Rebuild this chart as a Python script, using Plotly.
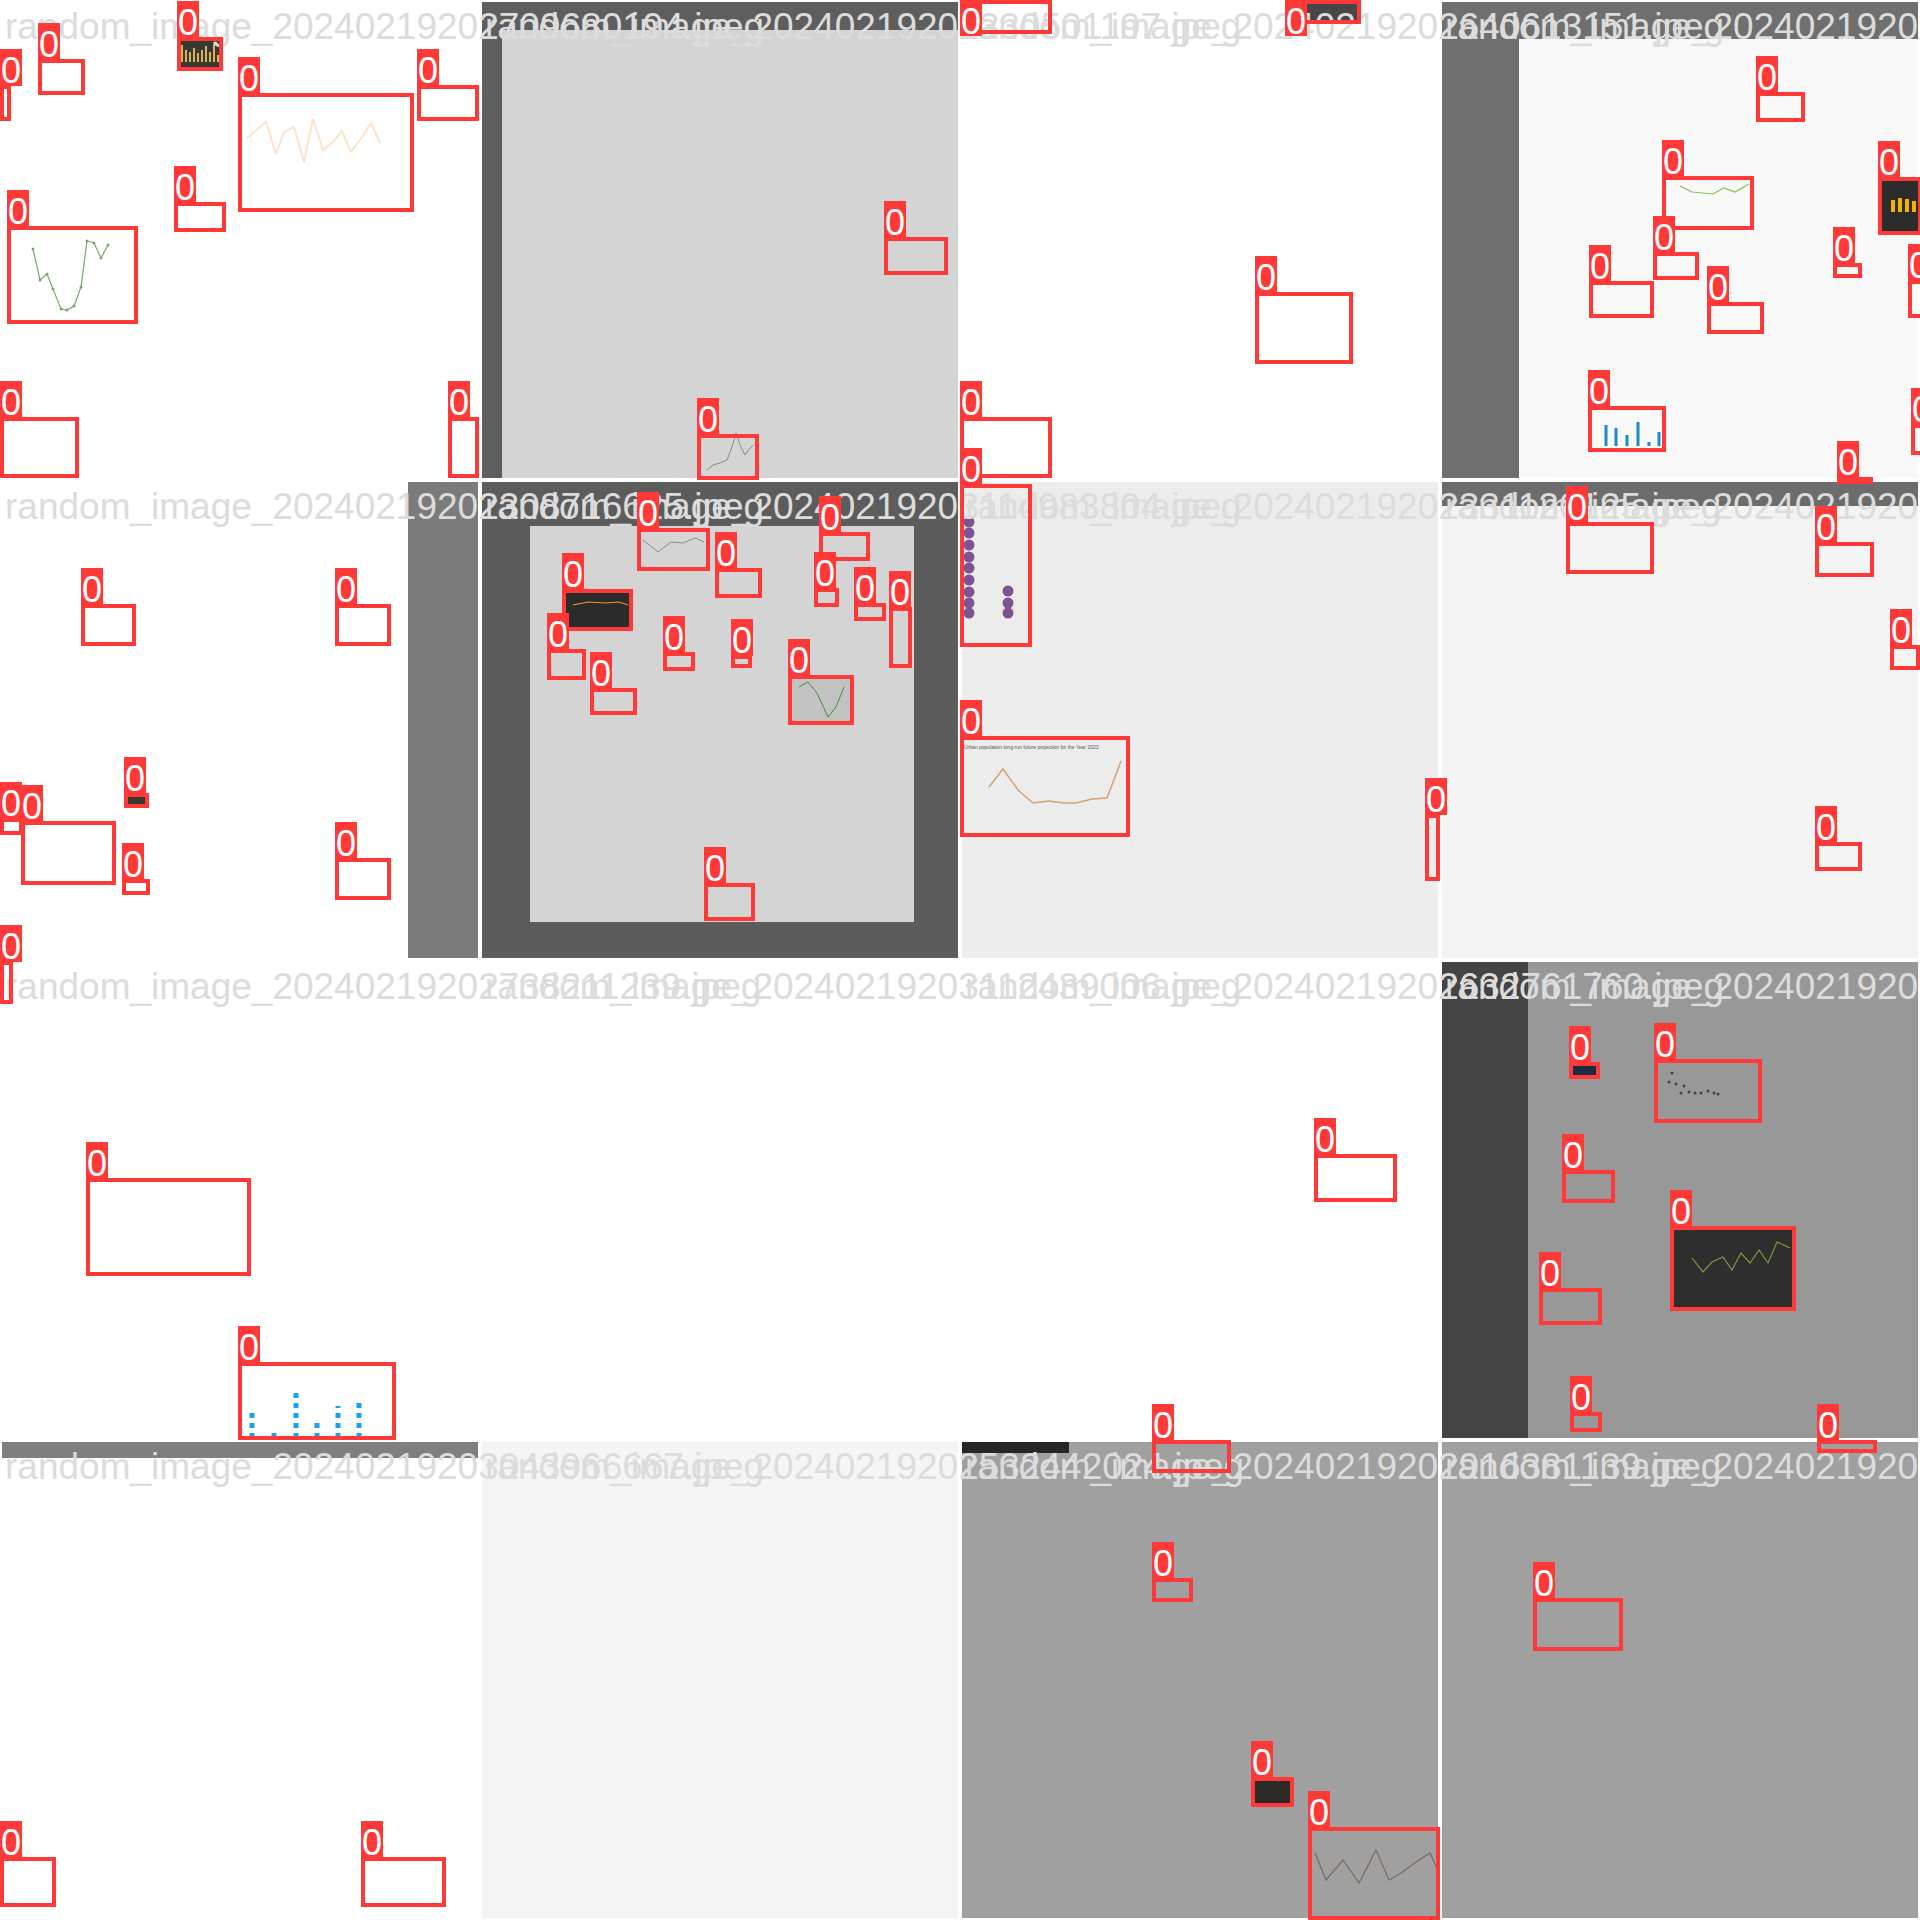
import plotly.graph_objects as go

SIZE = 1920
TILE = 480

# ---------------- data ----------------
file_names = [
    "random_image_20240219202709680194.jpeg",
    "random_image_20240219202330501197.jpeg",
    "random_image_20240219202640613151.jpeg",
    "random_image_20240219202818406281.jpeg",
    "random_image_20240219202308716625.jpeg",
    "random_image_20240219203114983804.jpeg",
    "random_image_20240219202331120125.jpeg",
    "random_image_20240219202914553206.jpeg",
    "random_image_20240219202738211239.jpeg",
    "random_image_20240219203112439006.jpeg",
    "random_image_20240219202632761760.jpeg",
    "random_image_20240219202455018347.jpeg",
    "random_image_20240219203043966667.jpeg",
    "random_image_20240219202532442024.jpeg",
    "random_image_20240219202916381139.jpeg",
    "random_image_20240219202607733452.jpeg",
]

tile_colors = [
    "#ffffff", "#5e5e5e", "#ffffff", "#6f6f6f",
    "#ffffff", "#5c5c5c", "#ececec", "#f3f3f3",
    "#ffffff", "#ffffff", "#ffffff", "#989898",
    "#ffffff", "#f5f5f5", "#a0a0a0", "#a0a0a0",
]

# regions inside tiles (image content / letterbox padding)
region_x0 = [502, 1519, 408, 530, 1440, 1440, 0, 960]
region_y0 = [30, 39, 480, 526, 480, 960, 1440, 1440]
region_x1 = [960, 1920, 480, 914, 1920, 1528, 480, 1069]
region_y1 = [480, 480, 960, 922, 506, 1440, 1458, 1453]
region_color = ["#d4d4d4", "#f8f8f8", "#7b7b7b", "#d4d4d4",
                "#6c6c6c", "#444444", "#7f7f7f", "#262626"]

# detected boxes (class 0), pixel corners in the mosaic
box_x0 = [38, 0, 177, 238, 417, 174, 7, 0, 448,
          884, 697,
          960, 1285, 1255, 960,
          1756, 1662, 1878, 1653, 1589, 1707, 1833, 1908, 1588, 1837, 1911,
          81, 335, 124, 0, 21, 122, 335,
          637, 715, 819, 562, 814, 854, 889, 547, 590, 663, 731, 788, 704,
          960, 960, 1425,
          1566, 1815, 1890, 1815,
          0, 86, 238,
          1314,
          1569, 1654, 1562, 1670, 1539, 1570,
          1152, 1152, 1251, 1308,
          1533, 1817,
          0, 361]
box_y0 = [59, 85, 37, 93, 85, 202, 226, 417, 417,
          237, 434,
          0, 0, 292, 417,
          92, 176, 177, 252, 281, 302, 263, 280, 406, 477, 424,
          604, 604, 793, 818, 821, 879, 858,
          528, 568, 532, 589, 588, 603, 607, 649, 688, 652, 655, 675, 883,
          484, 736, 814,
          522, 542, 645, 842,
          961, 1178, 1362,
          1154,
          1062, 1059, 1170, 1226, 1288, 1412,
          1440, 1578, 1777, 1827,
          1598, 1440,
          1857, 1857]
box_x1 = [85, 11, 223, 414, 479, 226, 138, 79, 479,
          948, 759,
          1052, 1361, 1353, 1052,
          1805, 1754, 1922, 1699, 1654, 1764, 1862, 1925, 1666, 1873, 1930,
          136, 391, 149, 23, 116, 150, 391,
          710, 762, 870, 633, 839, 886, 912, 586, 637, 695, 752, 854, 755,
          1032, 1130, 1440,
          1654, 1874, 1920, 1862,
          13, 251, 396,
          1397,
          1600, 1762, 1615, 1796, 1602, 1602,
          1231, 1193, 1294, 1440,
          1623, 1877,
          56, 446]
box_y1 = [95, 121, 71, 212, 121, 232, 324, 478, 478,
          275, 480,
          34, 24, 364, 478,
          122, 230, 235, 280, 318, 334, 278, 318, 452, 484, 455,
          646, 646, 808, 835, 885, 895, 900,
          571, 598, 561, 631, 607, 621, 668, 680, 715, 671, 668, 725, 921,
          647, 837, 881,
          574, 577, 670, 871,
          1004, 1276, 1440,
          1202,
          1079, 1123, 1203, 1311, 1325, 1432,
          1473, 1602, 1807, 1920,
          1651, 1453,
          1907, 1907]
# thumbnail background inside some boxes (chart images)
box_fill = ["", "", "#3a3833", "", "", "", "", "", "",
            "", "",
            "", "#474747", "", "",
            "", "", "#2c2c2c", "", "", "", "", "", "", "", "",
            "", "", "#3a3833", "", "", "", "",
            "", "", "", "#2b2b2b", "", "", "", "", "", "", "", "#c2c2c2", "",
            "", "", "",
            "", "", "", "",
            "", "", "",
            "",
            "#1f2a45", "", "", "#2e2e2e", "", "",
            "", "", "#2b2a27", "",
            "", "",
            "", ""]
class_label = "0"

# ---- content of the chart thumbnails inside the boxes (mosaic pixels) ----
green_line_x = [33, 40, 47, 53, 61, 67, 74, 81, 87, 94, 101, 108]
green_line_y = [249, 280, 274, 289, 309, 310, 306, 287, 241, 243, 258, 245]
peach_line_x = [247, 266, 276, 284, 294, 304, 313, 323, 333, 342, 351, 362, 371, 380]
peach_line_y = [138, 122, 154, 132, 127, 162, 119, 150, 142, 131, 152, 137, 123, 143]
purple_dots_x = [969] * 9 + [1008] * 3
purple_dots_y = [522, 533, 545, 557, 568, 580, 592, 603, 613, 591, 603, 613]
urban_line_x = [989, 1003, 1018, 1033, 1049, 1064, 1076, 1092, 1107, 1121]
urban_line_y = [787, 769, 790, 803, 801, 803, 803, 799, 798, 761]
dark_green_x = [1692, 1703, 1712, 1723, 1732, 1741, 1750, 1759, 1768, 1777, 1790]
dark_green_y = [1258, 1272, 1262, 1257, 1270, 1253, 1263, 1250, 1263, 1242, 1248]
brown_line_x = [1315, 1326, 1343, 1359, 1376, 1389, 1401, 1416, 1430, 1439]
brown_line_y = [1853, 1880, 1860, 1883, 1850, 1880, 1873, 1862, 1853, 1873]
blue_col_x = [252, 274, 296, 317, 338, 359]
blue_col_top = [1412, 1431, 1393, 1418, 1406, 1400]
blue_col_base = 1438
blue_bar_x = [1606, 1616, 1627, 1638, 1649, 1659]
blue_bar_top = [425, 428, 435, 422, 442, 432]
blue_bar_base = 446
gold_bar_x = [182, 186, 190, 194, 198, 202, 206, 210, 214, 218]
gold_bar_top = [45, 50, 52, 48, 53, 50, 46, 52, 44, 55]
gold_bar_base = 62
amber_bar_x = [1893, 1900, 1907, 1914]
amber_bar_top = [200, 198, 199, 201]
amber_bar_base = 212
lime_line_x = [1680, 1692, 1703, 1713, 1724, 1735, 1749]
lime_line_y = [186, 192, 193, 194, 188, 192, 184]
scatter_pts_x = [1672, 1669, 1676, 1684, 1681, 1689, 1695, 1701, 1708, 1714, 1718]
scatter_pts_y = [1073, 1082, 1084, 1086, 1093, 1092, 1093, 1093, 1091, 1093, 1094]
grey_peak_x = [707, 713, 720, 727, 732, 736, 740, 745, 750, 753]
grey_peak_y = [470, 465, 463, 460, 447, 433, 445, 455, 448, 445]
valley_x = [799, 808, 817, 828, 836, 844]
valley_y = [687, 682, 693, 717, 707, 687]
wave_x = [643, 658, 671, 683, 695, 704]
wave_y = [540, 552, 542, 543, 538, 542]
gold_line_x = [573, 588, 606, 619, 628]
gold_line_y = [605, 602, 603, 602, 605]
urban_title = "Urban population long-run future projection for the Year 2023"

# ---------------- styling ----------------
BOX_COLOR = "#ff3838"
LINE_W = 4
LABEL_W = 22
LABEL_H = 36
FONT = "Liberation Sans, Arial, sans-serif"

shapes = []
for i, col in enumerate(tile_colors):
    tx = (i % 4) * TILE
    ty = (i // 4) * TILE
    shapes.append(dict(type="rect", xref="x", yref="y", x0=tx, y0=ty, x1=tx + TILE, y1=ty + TILE,
                       fillcolor=col, line=dict(width=0), layer="below"))
for x0, y0, x1, y1, col in zip(region_x0, region_y0, region_x1, region_y1, region_color):
    shapes.append(dict(type="rect", xref="x", yref="y", x0=x0, y0=y0, x1=x1, y1=y1,
                       fillcolor=col, line=dict(width=0), layer="below"))
for x0, y0, x1, y1, col in zip(box_x0, box_y0, box_x1, box_y1, box_fill):
    if col:
        shapes.append(dict(type="rect", xref="x", yref="y", x0=x0, y0=y0, x1=x1, y1=y1,
                           fillcolor=col, line=dict(width=0), layer="below"))
for i in range(16):
    tx = (i % 4) * TILE
    ty = (i // 4) * TILE
    shapes.append(dict(type="rect", xref="x", yref="y", x0=tx + 1, y0=ty + 1,
                       x1=tx + TILE - 1, y1=ty + TILE - 1,
                       line=dict(color="#ffffff", width=2), fillcolor="rgba(0,0,0,0)", layer="below"))

for x0, y0, x1, y1 in zip(box_x0, box_y0, box_x1, box_y1):
    shapes.append(dict(type="rect", xref="x", yref="y",
                       x0=x0 + LINE_W / 2, y0=y0 + LINE_W / 2, x1=x1 - LINE_W / 2, y1=y1 - LINE_W / 2,
                       line=dict(color=BOX_COLOR, width=LINE_W), fillcolor="rgba(0,0,0,0)", layer="above"))
for x0, y0 in zip(box_x0, box_y0):
    if y0 - LABEL_H >= 0:
        ly0, ly1 = y0 - LABEL_H, y0 + 1
    else:
        ly0, ly1 = y0, y0 + LABEL_H
    shapes.append(dict(type="rect", xref="x", yref="y", x0=x0, y0=ly0, x1=x0 + LABEL_W, y1=ly1,
                       fillcolor=BOX_COLOR, line=dict(width=0), layer="above",
                       label=dict(text=class_label, textposition="middle center",
                                  font=dict(family=FONT, size=36, color="#ffffff"), padding=0)))

fig = go.Figure()


def add_line(xs, ys, color, width=1.2, mode="lines", msize=3, dash="solid"):
    fig.add_trace(go.Scatter(x=xs, y=ys, mode=mode, line=dict(color=color, width=width, dash=dash),
                             marker=dict(color=color, size=msize), hoverinfo="skip", showlegend=False))


def add_bars(xs, tops, base, color, width, dash="solid"):
    px, py = [], []
    for x, t in zip(xs, tops):
        px += [x, x, None]
        py += [base, t, None]
    add_line(px, py, color, width, dash=dash)


# thumbnails
add_line(green_line_x, green_line_y, "#7aa86a", 1.2, "lines+markers", 3)
add_line(peach_line_x, peach_line_y, "#fbe3cc", 2)
add_line(urban_line_x, urban_line_y, "#d2a273", 1.5)
add_line(dark_green_x, dark_green_y, "#7c9a3a", 1.2)
add_line(brown_line_x, brown_line_y, "#7f6a55", 1.2)
add_line(lime_line_x, lime_line_y, "#8bc34a", 1.2)
add_line(grey_peak_x, grey_peak_y, "#8a8a8a", 1)
add_line(valley_x, valley_y, "#3f8f3a", 1)
add_line(wave_x, wave_y, "#8a8a8a", 1)
add_line(gold_line_x, gold_line_y, "#d9a030", 1.2)
fig.add_trace(go.Scatter(x=purple_dots_x, y=purple_dots_y, mode="markers",
                         marker=dict(color="#7f5290", size=11), hoverinfo="skip", showlegend=False))
fig.add_trace(go.Scatter(x=scatter_pts_x, y=scatter_pts_y, mode="markers",
                         marker=dict(color="#444444", size=3), hoverinfo="skip", showlegend=False))
add_bars(blue_col_x, blue_col_top, blue_col_base, "#1aa0f0", 5, dash="dot")
add_bars(blue_bar_x, blue_bar_top, blue_bar_base, "#1b8cc6", 3)
add_bars(gold_bar_x, gold_bar_top, gold_bar_base, "#d6b45e", 2)
add_bars(amber_bar_x, amber_bar_top, amber_bar_base, "#f0b400", 4)
fig.add_trace(go.Scatter(x=[964], y=[748], mode="text", text=[urban_title], textposition="middle right",
                         textfont=dict(family=FONT, size=5, color="#555555"),
                         hoverinfo="skip", showlegend=False))

# file names
fig.add_trace(go.Scatter(
    x=[(i % 4) * TILE + 5 for i in range(16)],
    y=[(i // 4) * TILE + 30 for i in range(16)],
    mode="text", text=file_names, textposition="middle right",
    textfont=dict(family=FONT, size=37, color="#dcdcdc"),
    cliponaxis=False, hoverinfo="skip", showlegend=False))

fig.update_layout(
    width=SIZE, height=SIZE,
    margin=dict(l=0, r=0, t=0, b=0),
    paper_bgcolor="#ffffff", plot_bgcolor="#ffffff",
    xaxis=dict(range=[0, SIZE], visible=False, showgrid=False, zeroline=False, fixedrange=True),
    yaxis=dict(range=[SIZE, 0], visible=False, showgrid=False, zeroline=False, fixedrange=True),
    shapes=shapes,
    showlegend=False,
)
fig.write_html("out.html")
